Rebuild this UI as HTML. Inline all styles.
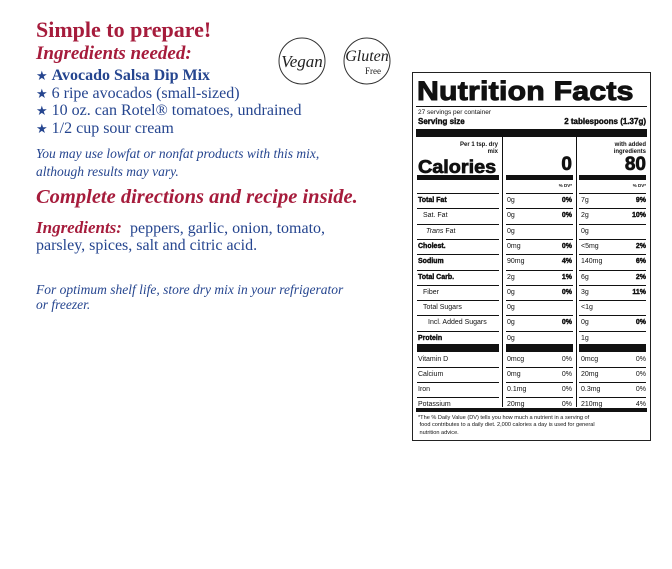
<!DOCTYPE html>
<html><head><meta charset="utf-8"><style>
*{margin:0;padding:0;box-sizing:border-box}
body{width:672px;height:569px;background:#fff;position:relative;overflow:hidden;font-family:"Liberation Serif",serif}
.t{position:absolute;white-space:nowrap;line-height:1}
.red{color:#a61c3c}.blue{color:#25458f}
.nf{position:absolute;left:412px;top:72px;width:239px;height:369px;border:1.5px solid #222;font-family:"Liberation Sans",sans-serif;color:#111}
.nf .a{position:absolute;white-space:nowrap;line-height:1}
.hl{position:absolute;background:#111}
.b{font-weight:bold}
.hv{-webkit-text-stroke:0.4px #111}
</style></head><body>
<div class="t red b" style="left:36px;top:19px;font-size:22px">Simple to prepare!</div>
<div class="t red b" style="left:36px;top:44px;font-size:19px;font-style:italic">Ingredients needed:</div>
<div class="t blue" style="left:36px;top:68px;font-size:16px"><span style="font-size:13px">★</span> <b>Avocado Salsa Dip Mix</b></div>
<div class="t blue" style="left:36px;top:86px;font-size:16px"><span style="font-size:13px">★</span> 6 ripe avocados (small-sized)</div>
<div class="t blue" style="left:36px;top:103px;font-size:16px"><span style="font-size:13px">★</span> 10 oz. can Rotel® tomatoes, undrained</div>
<div class="t blue" style="left:36px;top:121px;font-size:16px"><span style="font-size:13px">★</span> 1/2 cup sour cream</div>
<div class="t blue" style="left:36px;top:147px;font-size:13.5px;font-style:italic">You may use lowfat or nonfat products with this mix,</div>
<div class="t blue" style="left:36px;top:165px;font-size:13.5px;font-style:italic">although results may vary.</div>
<div class="t red b" style="left:36px;top:187px;font-size:20.5px;font-style:italic">Complete directions and recipe inside.</div>
<div class="t" style="left:36px;top:219px;font-size:16px"><b class="red" style="font-style:italic;font-size:17px">Ingredients:</b> <span class="blue">&nbsp;peppers, garlic, onion, tomato,</span></div>
<div class="t blue" style="left:36px;top:238px;font-size:16px">parsley, spices, salt and citric acid.</div>
<div class="t blue" style="left:36px;top:283px;font-size:13.5px;font-style:italic">For optimum shelf life, store dry mix in your refrigerator</div>
<div class="t blue" style="left:36px;top:298px;font-size:13.5px;font-style:italic">or freezer.</div>
<svg style="position:absolute;left:270px;top:33px" width="130" height="60">
<circle cx="32" cy="28" r="23" fill="none" stroke="#333" stroke-width="1"/>
<circle cx="97" cy="28" r="23" fill="none" stroke="#333" stroke-width="1"/>
<text x="32" y="34" text-anchor="middle" font-family="Liberation Serif" font-style="italic" font-size="17" fill="#222">Vegan</text>
<text x="97" y="28" text-anchor="middle" font-family="Liberation Serif" font-style="italic" font-size="16" fill="#222">Gluten</text>
<text x="103" y="41" text-anchor="middle" font-family="Liberation Serif" font-size="9" fill="#222">Free</text>
</svg>
<div class="nf">
<div class="a b" style="left:4px;top:5px;font-size:27px;letter-spacing:0.2px;transform:scaleX(1.12);transform-origin:left;-webkit-text-stroke:1px #111">Nutrition Facts</div>
<div class="hl" style="left:3px;top:33px;width:231px;height:1px"></div>
<div class="a" style="left:5px;top:37px;font-size:6.5px">27 servings per container</div>
<div class="a b hv" style="left:5px;top:45px;font-size:8px">Serving size</div>
<div class="a b hv" style="right:4px;top:45px;font-size:8px">2 tablespoons (1.37g)</div>
<div class="hl" style="left:3px;top:56px;width:231px;height:8px"></div>
<div class="hl" style="left:89px;top:64px;width:1px;height:270px"></div>
<div class="hl" style="left:163px;top:64px;width:1px;height:270px"></div>
<div class="a b" style="right:152px;top:69px;font-size:6px;text-align:right;line-height:1.2">Per 1 tsp. dry<br>mix</div>
<div class="a b" style="right:4px;top:69px;font-size:6px;text-align:right;line-height:1.2">with added<br>ingredients</div>
<div class="a b" style="left:5px;top:85px;font-size:18px;transform:scaleX(1.1);transform-origin:left;-webkit-text-stroke:0.7px #111">Calories</div>
<div class="a b" style="right:78px;top:82px;font-size:19px;-webkit-text-stroke:0.7px #111">0</div>
<div class="a b" style="right:4px;top:82px;font-size:19px;-webkit-text-stroke:0.7px #111">80</div>
<div class="hl" style="left:4px;top:102px;width:82px;height:5px"></div>
<div class="hl" style="left:93px;top:102px;width:67px;height:5px"></div>
<div class="hl" style="left:166px;top:102px;width:67px;height:5px"></div>
<div class="a b" style="right:78px;top:111px;font-size:4.5px">% DV*</div>
<div class="a b" style="right:4px;top:111px;font-size:4.5px">% DV*</div>
<div id="rows"></div>
<div class="hl" style="left:4px;top:271px;width:82px;height:8px"></div>
<div class="hl" style="left:93px;top:271px;width:67px;height:8px"></div>
<div class="hl" style="left:166px;top:271px;width:67px;height:8px"></div>
<div class="hl" style="left:3px;top:335px;width:231px;height:4px"></div>
<div class="a" style="left:5px;top:342px;font-size:5.6px;line-height:1.3">*The % Daily Value (DV) tells you how much a nutrient in a serving of<br>&nbsp;food contributes to a daily diet. 2,000 calories a day is used for general<br>&nbsp;nutrition advice.</div>
</div>
<script>
var R=[["Total Fat","b hv",0,"0g","0%","7g","9%"],["Sat. Fat","",5,"0g","0%","2g","10%"],["<i>Trans</i> Fat","",8,"0g","","0g",""],["Cholest.","b hv",0,"0mg","0%","&lt;5mg","2%"],["Sodium","b hv",0,"90mg","4%","140mg","6%"],["Total Carb.","b hv",0,"2g","1%","6g","2%"],["Fiber","",5,"0g","0%","3g","11%"],["Total Sugars","",5,"0g","","&lt;1g",""],["Incl. Added Sugars","",10,"0g","0%","0g","0%"],["Protein","b hv",0,"0g","","1g",""]];
var V=[["Vitamin D","0mcg","0%","0mcg","0%"],["Calcium","0mg","0%","20mg","0%"],["Iron","0.1mg","0%","0.3mg","0%"],["Potassium","20mg","0%","210mg","4%"]];
var h="",startY=120;
function line(y){h+='<div class="hl" style="left:4px;top:'+y+'px;width:82px;height:1px"></div><div class="hl" style="left:93px;top:'+y+'px;width:67px;height:1px"></div><div class="hl" style="left:166px;top:'+y+'px;width:67px;height:1px"></div>';}
R.forEach(function(r,i){var y=Math.round(startY+i*15.3);line(y);var ty=y+4;
h+='<div class="a '+r[1]+'" style="left:'+(5+r[2])+'px;top:'+ty+'px;font-size:7px">'+r[0]+'</div>';
h+='<div class="a" style="left:94px;top:'+ty+'px;font-size:7px">'+r[3]+'</div><div class="a b hv" style="right:78px;top:'+ty+'px;font-size:7px">'+r[4]+'</div>';
h+='<div class="a" style="left:168px;top:'+ty+'px;font-size:7px">'+r[5]+'</div><div class="a b hv" style="right:4px;top:'+ty+'px;font-size:7px">'+r[6]+'</div>';});
V.forEach(function(r,i){var y=279+i*15;if(i>0)line(y);var ty=y+4;
h+='<div class="a" style="left:5px;top:'+ty+'px;font-size:7px">'+r[0]+'</div><div class="a" style="left:94px;top:'+ty+'px;font-size:7px">'+r[1]+'</div><div class="a" style="right:78px;top:'+ty+'px;font-size:7px">'+r[2]+'</div><div class="a" style="left:168px;top:'+ty+'px;font-size:7px">'+r[3]+'</div><div class="a" style="right:4px;top:'+ty+'px;font-size:7px">'+r[4]+'</div>';});
document.getElementById("rows").innerHTML=h;
</script>
</body></html>
